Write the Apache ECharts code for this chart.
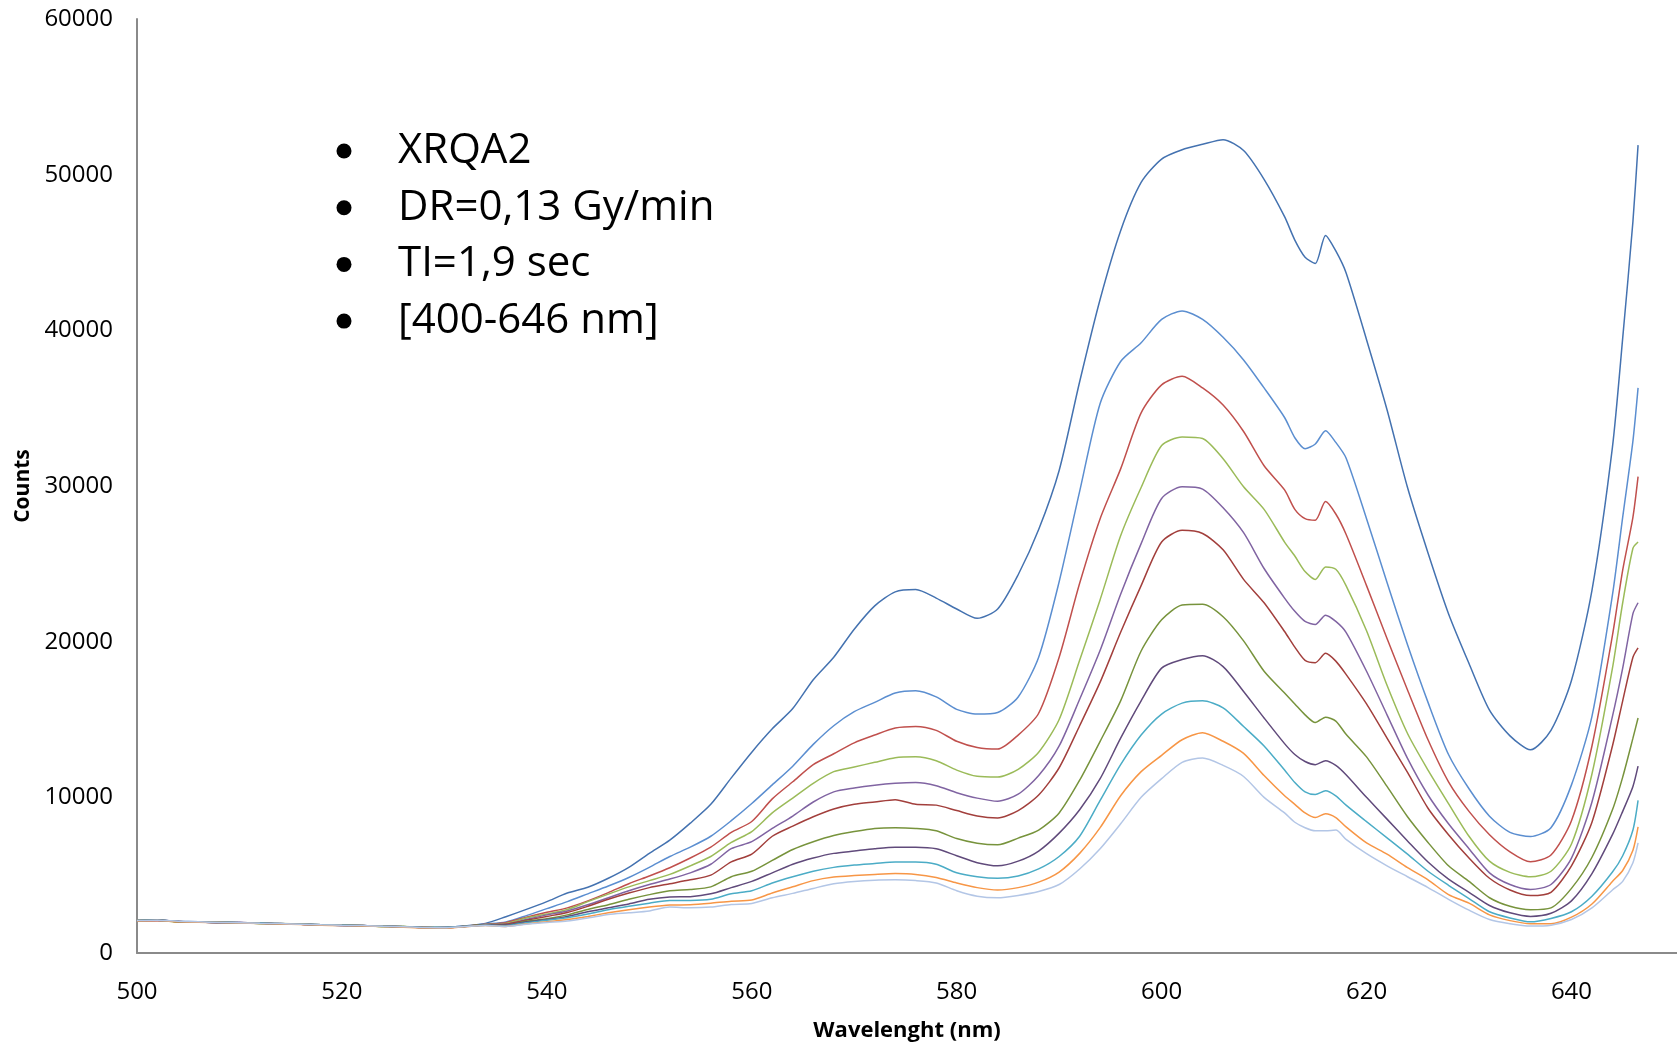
<!DOCTYPE html>
<html>
<head>
<meta charset="utf-8">
<script src="https://cdn.jsdelivr.net/npm/echarts@6/dist/echarts.min.js"></script>
<style>
  html, body { margin: 0; padding: 0; background: #fff; overflow: hidden; }
  #chart { width: 1677px; height: 1045px; }
</style>
</head>
<body>
<div id="chart"></div>
<script>
// Wavelength sampling (nm)
const wavelengths = [
  500, 502, 504, 506, 508, 510, 512, 514, 516, 518,
  520, 522, 524, 526, 528, 530, 532, 534,
  536, 538, 540, 542, 544, 546, 548, 550, 552, 554,
  556, 558, 560, 562, 564, 566, 568, 570, 572, 574,
  576, 578, 580, 582, 584, 586, 588, 590, 592, 594,
  596, 598, 600, 602, 604, 606, 608, 610,
  612, 613, 614, 615, 616, 617, 618,
  620, 622, 624, 626, 628, 630, 632, 634, 636, 638,
  640, 642, 644, 645, 646, 646.5
];

// Spectra (counts), one per acquisition
const spec1 = [
  2060, 2130, 2010, 1970, 1990, 1940, 1920, 1870, 1860, 1800, 1790, 1740, 1740, 1680, 1660, 1650, 1740, 1900,
  2330, 2800, 3300, 3850, 4220, 4800, 5500, 6400, 7250, 8340,
  9550, 11250, 12900, 14400, 15700, 17550, 19000, 20800, 22300, 23200,
  23350, 22800, 22100, 21500, 22100, 24300, 27200, 31000, 36700, 42000,
  46400, 49500, 51000, 51600, 51950, 52250, 51550, 49700,
  47300, 45800, 44700, 44300, 46100, 45100, 43700,
  39400, 34900, 29900, 25700, 21800, 18600, 15600, 13950, 13050, 14300,
  17500, 23300, 32500, 39500, 47000, 51900
];
const spec2 = [
  2090, 2100, 2040, 2000, 1950, 1960, 1900, 1890, 1840, 1820, 1770, 1770, 1710, 1700, 1630, 1640, 1730, 1860,
  2000, 2400, 2850, 3300, 3800, 4300, 4850, 5500, 6200, 6800,
  7500, 8500, 9600, 10800, 12000, 13400, 14600, 15500, 16100, 16700,
  16850, 16450, 15650, 15350, 15450, 16450, 19000, 23850, 29650, 35300,
  38000, 39200, 40700, 41250, 40700, 39550, 38100, 36300,
  34400, 33100, 32400, 32700, 33550, 32800, 31800,
  27900, 23800, 19800, 16100, 12750, 10550, 8790, 7750, 7480, 8050,
  10800, 15200, 23000, 28000, 32900, 36300
];
const spec3 = [
  2070, 2080, 2030, 1980, 1970, 1930, 1920, 1870, 1850, 1790, 1800, 1750, 1730, 1680, 1650, 1620, 1720, 1840,
  1950, 2300, 2620, 2900, 3350, 3880, 4450, 4950, 5480, 6100,
  6800, 7750, 8450, 9900, 11000, 12100, 12800, 13500, 14000, 14450,
  14550, 14300, 13600, 13200, 13100, 14000, 15400, 19000, 23750, 27900,
  31100, 34700, 36500, 37050, 36300, 35200, 33500, 31300,
  29750, 28500, 27900, 27800, 29000, 28200, 26900,
  23600, 20200, 16900, 13700, 11000, 9100, 7600, 6500, 5860, 6300,
  8500, 13300, 20400, 24600, 28000, 30600
];
const spec4 = [
  2100, 2120, 2010, 2000, 1960, 1950, 1900, 1890, 1860, 1810, 1780, 1770, 1700, 1700, 1640, 1640, 1710, 1830,
  1900, 2250, 2500, 2800, 3300, 3780, 4250, 4650, 5050, 5600,
  6200, 7100, 7800, 9000, 9950, 10900, 11650, 11950, 12250, 12550,
  12600, 12350, 11750, 11350, 11300, 11800, 12900, 15000, 18800, 22700,
  26800, 29900, 32600, 33150, 33050, 31750, 29950, 28500,
  26400, 25500, 24500, 24000, 24800, 24650, 23600,
  20700, 17200, 14100, 11750, 9600, 7500, 5900, 5180, 4900, 5250,
  7000, 11500, 18300, 22500, 26000, 26400
];
const spec5 = [
  2080, 2090, 2030, 1990, 1940, 1960, 1910, 1880, 1840, 1820, 1770, 1760, 1720, 1690, 1630, 1630, 1720, 1820,
  1850, 2150, 2450, 2700, 3100, 3550, 4000, 4400, 4750, 5150,
  5700, 6700, 7150, 8000, 8800, 9700, 10350, 10600, 10780, 10900,
  10950, 10750, 10300, 9950, 9750, 10200, 11400, 13300, 16300, 19450,
  23050, 26300, 29200, 29950, 29800, 28600, 27000, 24700,
  22800, 21950, 21300, 21100, 21700, 21300, 20600,
  18100, 15300, 12500, 10150, 8300, 6700, 5150, 4400, 4080, 4400,
  6100, 9700, 15200, 18300, 21800, 22500
];
const spec6 = [
  2060, 2110, 2020, 1980, 1970, 1940, 1930, 1870, 1850, 1800, 1790, 1750, 1730, 1680, 1650, 1620, 1710, 1820,
  1850, 2100, 2350, 2600, 3000, 3450, 3850, 4200, 4450, 4700,
  5000, 5850, 6350, 7500, 8150, 8750, 9250, 9550, 9700, 9850,
  9550, 9500, 9150, 8800, 8680, 9150, 10150, 11900, 14600, 17400,
  20600, 23600, 26400, 27150, 26950, 25900, 24000, 22500,
  20650, 19650, 18800, 18650, 19250, 18750, 17900,
  16000, 13800, 11600, 9300, 7600, 6100, 4800, 4050, 3690, 3900,
  5600, 8400, 13300, 16200, 19000, 19600
];
const spec7 = [
  2090, 2100, 2000, 1990, 1960, 1950, 1900, 1880, 1860, 1810, 1780, 1770, 1710, 1700, 1640, 1630, 1720, 1810,
  1800, 2050, 2200, 2450, 2800, 3100, 3450, 3750, 4000, 4080,
  4250, 4900, 5250, 5950, 6650, 7150, 7550, 7800, 8000, 8050,
  8000, 7850, 7350, 7050, 6950, 7380, 7900, 9000, 11100, 13600,
  16200, 19400, 21400, 22350, 22400, 21600, 20050, 18100,
  16700, 16000, 15300, 14800, 15150, 14900, 14050,
  12600, 10700, 8750, 7100, 5600, 4600, 3550, 3000, 2780, 2900,
  4150, 6150, 9200, 11300, 13800, 15100
];
const spec8 = [
  2080, 2120, 2020, 2000, 1950, 1960, 1910, 1890, 1840, 1810, 1770, 1760, 1720, 1690, 1630, 1640, 1710, 1800,
  1800, 2000, 2150, 2350, 2650, 2900, 3150, 3450, 3600, 3620,
  3800, 4200, 4600, 5150, 5700, 6100, 6400, 6550, 6700, 6800,
  6800, 6700, 6250, 5800, 5600, 5900, 6550, 7700, 9200, 11200,
  13800, 16200, 18300, 18850, 19100, 18400, 16800, 15100,
  13450, 12750, 12300, 12100, 12350, 12050, 11450,
  10000, 8600, 7200, 5850, 4750, 3900, 3050, 2580, 2350, 2550,
  3350, 5100, 7600, 9100, 10700, 12000
];
const spec9 = [
  2070, 2100, 2030, 1980, 1970, 1940, 1920, 1880, 1850, 1820, 1790, 1750, 1730, 1680, 1640, 1630, 1700, 1790,
  1750, 1950, 2100, 2260, 2500, 2780, 3000, 3200, 3380, 3380,
  3450, 3800, 4000, 4500, 4900, 5250, 5500, 5650, 5750, 5850,
  5850, 5700, 5150, 4900, 4800, 4950, 5400, 6200, 7500, 9800,
  12100, 14000, 15350, 16050, 16200, 15750, 14550, 13300,
  11750, 10950, 10350, 10180, 10420, 10100, 9500,
  8440, 7400, 6350, 5250, 4350, 3500, 2650, 2250, 2000, 2220,
  2650, 3650, 5200, 6250, 7900, 9800
];
const spec10 = [
  2050, 2090, 2000, 1970, 1960, 1930, 1890, 1860, 1830, 1790, 1760, 1740, 1700, 1660, 1610, 1600, 1690, 1760,
  1700, 1880, 2000, 2150, 2350, 2580, 2780, 2950, 3080, 3100,
  3200, 3330, 3400, 3850, 4250, 4650, 4880, 4980, 5050, 5100,
  5050, 4850, 4500, 4200, 4050, 4200, 4550, 5200, 6400, 8050,
  10100, 11650, 12700, 13700, 14150, 13600, 12820, 11400,
  10100, 9550, 9000, 8700, 8950, 8700, 8100,
  7070, 6350, 5480, 4700, 3750, 3200, 2450, 2080, 1880, 1880,
  2300, 3150, 4600, 5300, 6600, 8100
];
const spec11 = [
  2090, 2110, 2040, 2000, 1960, 1950, 1910, 1890, 1850, 1810, 1780, 1760, 1720, 1690, 1640, 1630, 1700, 1760,
  1700, 1850, 1960, 2050, 2250, 2470, 2580, 2700, 2950, 2900,
  2950, 3120, 3180, 3550, 3830, 4150, 4450, 4600, 4680, 4700,
  4650, 4500, 4000, 3650, 3550, 3700, 3950, 4400, 5400, 6700,
  8300, 10000, 11200, 12250, 12520, 12050, 11340, 10000,
  9000, 8400, 8050, 7850, 7850, 7900, 7300,
  6380, 5600, 4900, 4200, 3450, 2750, 2150, 1880, 1730, 1790,
  2150, 2900, 4050, 4600, 5800, 7070
];

const spectra = [spec1, spec2, spec3, spec4, spec5, spec6, spec7, spec8, spec9, spec10, spec11];
const lineColors = [
  '#4472B0', '#5B8ED0', '#C0504D', '#9BBB59', '#8064A2', '#A23F3C',
  '#77933C', '#604A7B', '#4BACC6', '#F79646', '#B3C6E6'
];

// Annotation block
const noteLines = ['XRQA2', 'DR=0,13 Gy/min', 'TI=1,9 sec', '[400-646 nm]'];

const xTicks = { min: 500, max: 650.3, interval: 20 };
const yTicks = { min: 0, max: 60000, interval: 10000 };

const FONT = '"Open Sans", "Liberation Sans", sans-serif';

const chart = echarts.init(document.getElementById('chart'), null, { renderer: 'canvas' });

const series = spectra.map((vals, i) => ({
  type: 'line',
  data: wavelengths.map((w, k) => [w, vals[k]]),
  showSymbol: false,
  symbol: 'none',
  smooth: 0.25,
  lineStyle: { width: 1.5, color: lineColors[i] },
  itemStyle: { color: lineColors[i] },
  emphasis: { disabled: true },
  z: 2 + i
}));

const noteTop = 151, noteStep = 56.7;
const graphics = [];
noteLines.forEach((t, i) => {
  const cy = noteTop + i * noteStep;
  graphics.push({
    type: 'circle',
    shape: { cx: 344, cy: cy, r: 7.5 },
    style: { fill: '#000' },
    silent: true
  });
  graphics.push({
    type: 'text',
    x: 398,
    y: cy,
    style: {
      text: t,
      fill: '#000',
      font: '42px ' + FONT,
      verticalAlign: 'middle',
      align: 'left'
    },
    silent: true
  });
});

const axisLineStyle = { color: '#8A8A8A', width: 2 };

chart.setOption({
  animation: false,
  backgroundColor: '#ffffff',
  grid: {
    left: 137, right: 0, top: 19, bottom: 92,
    containLabel: false,
    outerBoundsMode: 'none'
  },
  xAxis: {
    type: 'value',
    min: xTicks.min,
    max: xTicks.max,
    interval: xTicks.interval,
    name: 'Wavelenght (nm)',
    nameLocation: 'middle',
    nameGap: 67,
    nameTextStyle: { fontFamily: FONT, fontWeight: 'bold', fontSize: 22, color: '#000' },
    axisLine: { show: true, onZero: false, lineStyle: axisLineStyle },
    axisTick: { show: false },
    splitLine: { show: false },
    axisLabel: {
      showMaxLabel: false,
      margin: 27,
      fontFamily: FONT,
      fontSize: 24,
      color: '#000'
    }
  },
  yAxis: {
    type: 'value',
    min: yTicks.min,
    max: yTicks.max,
    interval: yTicks.interval,
    name: 'Counts',
    nameLocation: 'middle',
    nameRotate: 90,
    nameGap: 102,
    nameTextStyle: { fontFamily: FONT, fontWeight: 'bold', fontSize: 21, color: '#000' },
    axisLine: { show: true, lineStyle: axisLineStyle },
    axisTick: { show: false },
    splitLine: { show: false },
    axisLabel: {
      margin: 24,
      fontFamily: FONT,
      fontSize: 24,
      color: '#000',
      formatter: (v) => String(v)
    }
  },
  graphic: graphics,
  series: series
});
</script>
</body>
</html>
